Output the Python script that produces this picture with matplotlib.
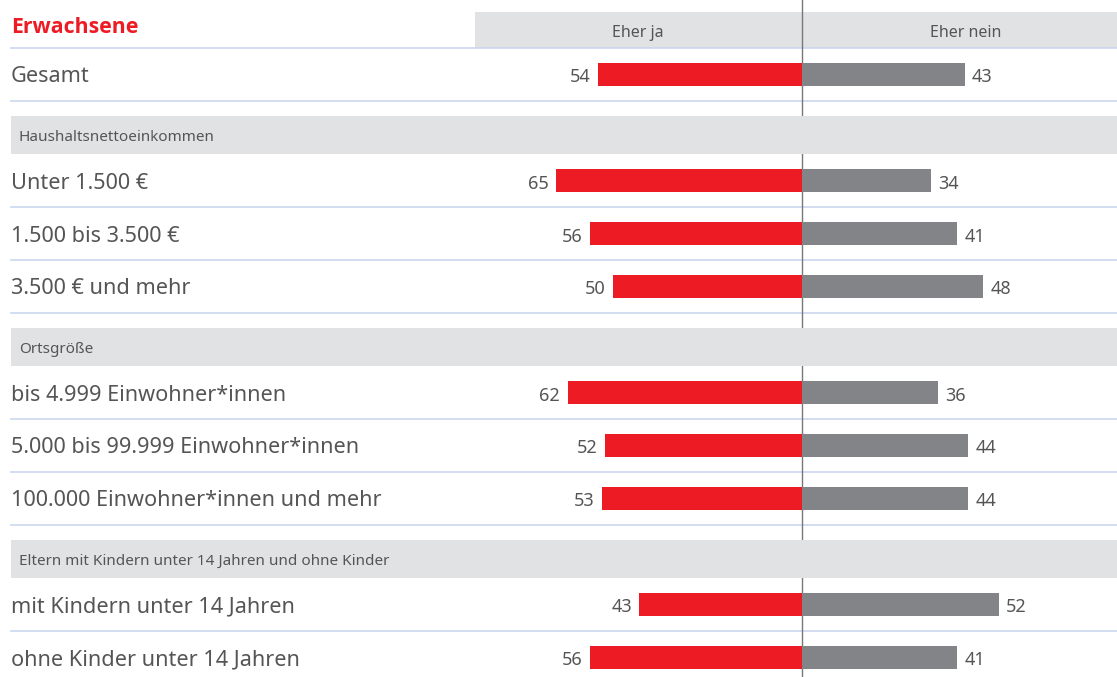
import matplotlib
matplotlib.use("Agg")
import matplotlib.pyplot as plt
import matplotlib.transforms as mtransforms

# ==============================
# DATA
# ==============================
title = "Erwachsene"
col_left = "Eher ja"
col_right = "Eher nein"

groups = [
    None,
    "Haushaltsnettoeinkommen",
    "Ortsgröße",
    "Eltern mit Kindern unter 14 Jahren und ohne Kinder",
]
row_labels = [
    ["Gesamt"],
    ["Unter 1.500 €", "1.500 bis 3.500 €", "3.500 € und mehr"],
    ["bis 4.999 Einwohner*innen", "5.000 bis 99.999 Einwohner*innen",
     "100.000 Einwohner*innen und mehr"],
    ["mit Kindern unter 14 Jahren", "ohne Kinder unter 14 Jahren"],
]
eher_ja = [[54], [65, 56, 50], [62, 52, 53], [43, 56]]
eher_nein = [[43], [34, 41, 48], [36, 44, 44], [52, 41]]

# ==============================
# STYLE
# ==============================
RED = "#ED1C24"
GREY = "#838487"
BAND = "#E1E2E4"
RULE = "#C9D7EF"
TXT = "#555555"
FONT = "Noto Sans"

W, H = 1117, 677
PX_PER_UNIT = 3.78
ZERO_PX = 802

fig = plt.figure(figsize=(W / 100, H / 100), dpi=100)
ax = fig.add_axes([0, 0, 1, 1])
ax.set_xlim(-ZERO_PX / PX_PER_UNIT, (W - ZERO_PX) / PX_PER_UNIT)
ax.set_ylim(H, 0)
ax.axis("off")

# x in pixels, y in data (pixels from top)
px = mtransforms.blended_transform_factory(
    mtransforms.Affine2D().scale(1 / W, 1) + ax.transAxes, ax.transData)


def hline(y):
    ax.plot([11, W], [y, y], color=RULE, lw=1.2, transform=px, zorder=1)


# header
ax.fill_between([475, W], 12, 48, color=BAND, lw=0, transform=px, zorder=0)
ax.text(11, 25, title, color=RED, fontsize=15.3, fontweight="bold",
        family="Open Sans", va="center_baseline", ha="left", transform=px)
ax.text(638, 31, col_left, color=TXT, fontsize=11.5, family=FONT,
        va="center_baseline", ha="center", transform=px)
ax.text(966, 31, col_right, color=TXT, fontsize=11.5, family=FONT,
        va="center_baseline", ha="center", transform=px)
ax.axvline(0, color="#777777", lw=1, zorder=2)
hline(48)

row_h = 52.8
band_h = 38
gap = 15.5
bar_h = 23

y = 48
for g, name in enumerate(groups):
    if name is not None:
        y += gap
        ax.fill_between([11, W], y, y + band_h, color=BAND, lw=0,
                        transform=px, zorder=3)
        ax.text(19, y + band_h / 2, name, color=TXT, fontsize=11,
                family=FONT, va="center_baseline", ha="left", transform=px,
                zorder=4)
        y += band_h
    for i, lab in enumerate(row_labels[g]):
        yc = y + row_h / 2
        ja = eher_ja[g][i]
        nein = eher_nein[g][i]
        ax.barh(yc, -ja, height=bar_h, color=RED, zorder=5)
        ax.barh(yc, nein, height=bar_h, color=GREY, zorder=5)
        ax.text(11, yc, lab, color=TXT, fontsize=15.6, family=FONT,
                va="center_baseline", ha="left", transform=px)
        ax.text(-ja - 2, yc + 1, f"{ja}", color=TXT, fontsize=13,
                family=FONT, va="center_baseline", ha="right")
        ax.text(nein + 2, yc + 1, f"{nein}", color=TXT, fontsize=13,
                family=FONT, va="center_baseline", ha="left")
        y += row_h
        if not (g == len(groups) - 1 and i == len(row_labels[g]) - 1):
            hline(y)

fig.savefig("out.png", dpi=100)
